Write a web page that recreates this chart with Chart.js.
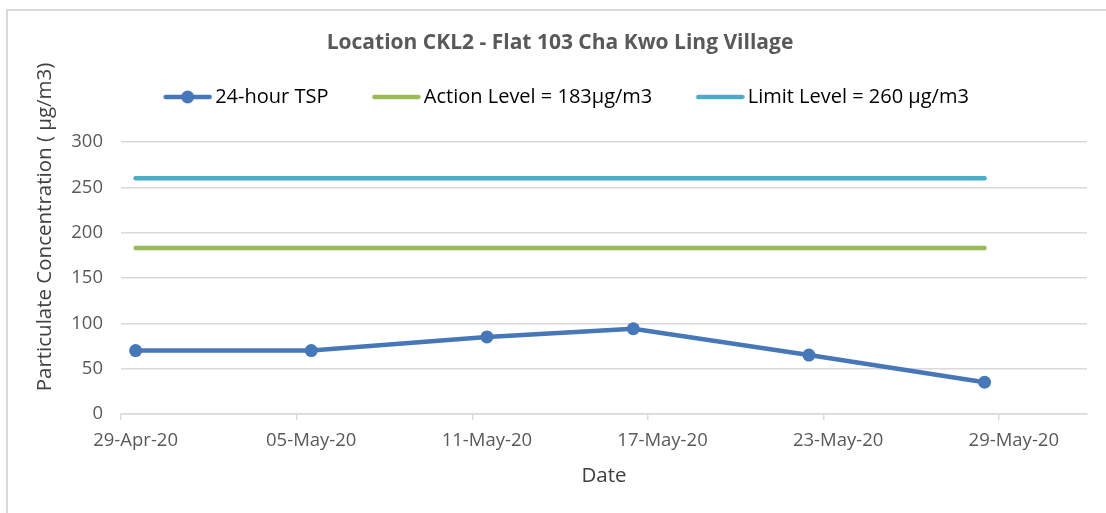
<!DOCTYPE html>
<html>
<head>
<meta charset="utf-8">
<script src="https://cdn.jsdelivr.net/npm/chart.js@4.4.1/dist/chart.umd.min.js"></script>
<style>
  html, body { margin: 0; padding: 0; background: #fff; overflow: hidden; width: 1106px; height: 513px; }
  .frame { position: absolute; left: 6px; top: 9px; border-left: 2px solid #d9d9d9; border-top: 2px solid #d9d9d9; }
  canvas { display: block; }
</style>
</head>
<body>
<div class="frame"><canvas id="chart" width="1111" height="502"></canvas></div>
<script>
// data
const dates = ["2020-04-29", "2020-05-05", "2020-05-11", "2020-05-16", "2020-05-22", "2020-05-28"];
const tsp = [70, 70, 85, 94, 65, 35];
const actionLevel = 183;
const limitLevel = 260;

const tickDates = ["2020-04-29", "2020-05-05", "2020-05-11", "2020-05-17", "2020-05-23", "2020-05-29"];
const tickLabels = ["29-Apr-20", "05-May-20", "11-May-20", "17-May-20", "23-May-20", "29-May-20"];
const axisStart = "2020-04-29";
const axisEnd = "2020-06-01";
const yTicks = [0, 50, 100, 150, 200, 250, 300];
const yTitleText = "Particulate Concentration ( µg/m3)";

const FONT = "'Open Sans', 'Noto Sans', sans-serif";
const DAY = 86400000;
const dayOf = d => (Date.parse(d) - Date.parse(axisStart)) / DAY;
// Excel draws a date in the middle of its day slot
const pts = vals => dates.map((d, i) => ({ x: dayOf(d) + 0.5, y: vals[i] }));

function legendIcon(color, withDot) {
  const c = document.createElement("canvas");
  c.width = 68; c.height = 16;
  const g = c.getContext("2d");
  g.strokeStyle = color; g.lineWidth = 4.5; g.lineCap = "round";
  g.beginPath(); g.moveTo(21.5, 8); g.lineTo(65.5, 8); g.stroke();
  if (withDot) {
    g.fillStyle = color;
    g.beginPath(); g.arc(43.5, 8, 6.5, 0, 2 * Math.PI); g.fill();
  }
  return c;
}

// empty box under the legend, keeps the plot top where the reference has it
const legendSpacer = {
  id: "legendSpacer",
  beforeInit(chart) {
    Chart.layouts.addBox(chart, {
      position: "top", weight: 0, fullSize: true, options: {},
      top: 0, left: 0, right: 0, bottom: 0, width: 0, height: 0,
      update(maxWidth) { this.width = maxWidth; this.height = 25; },
      isHorizontal() { return true; },
      draw() {},
    });
  },
};

// Excel centres the value-axis title higher than the plot area, so draw it here
const yAxisTitle = {
  id: "yAxisTitle",
  afterDraw(chart) {
    const { ctx, chartArea } = chart;
    ctx.save();
    ctx.translate(37.3, (chartArea.top + chartArea.bottom) / 2 - 51);
    ctx.rotate(-Math.PI / 2);
    ctx.font = "20.5px " + FONT;
    ctx.fillStyle = "#404040";
    ctx.textAlign = "center";
    ctx.textBaseline = "middle";
    ctx.fillText(yTitleText, 0, 0);
    ctx.restore();
  },
};

const blue = "#4677b8", green = "#9bbb59", cyan = "#4bacc6";

new Chart(document.getElementById("chart"), {
  type: "line",
  plugins: [legendSpacer, yAxisTitle],
  data: {
    datasets: [
      {
        label: "24-hour TSP",
        data: pts(tsp),
        borderColor: blue,
        backgroundColor: blue,
        borderWidth: 4.5,
        pointRadius: 6.5,
        pointBorderWidth: 0,
        pointBackgroundColor: blue,
        icon: legendIcon(blue, true),
      },
      {
        label: "Action Level = 183µg/m3",
        data: pts(dates.map(() => actionLevel)),
        borderColor: green,
        borderWidth: 4.5,
        borderCapStyle: "round",
        pointRadius: 0,
        icon: legendIcon(green, false),
      },
      {
        label: "Limit Level = 260 µg/m3",
        data: pts(dates.map(() => limitLevel)),
        borderColor: cyan,
        borderWidth: 4.5,
        borderCapStyle: "round",
        pointRadius: 0,
        icon: legendIcon(cyan, false),
      },
    ],
  },
  options: {
    responsive: false,
    animation: false,
    layout: { padding: { left: 25, right: 32, top: 0, bottom: 0 } },
    plugins: {
      tooltip: { enabled: false },
      title: {
        display: true,
        text: "Location CKL2 - Flat 103 Cha Kwo Ling Village",
        color: "#595959",
        font: { family: FONT, size: 21, weight: "bold" },
        padding: { top: 19.4, bottom: 0 },
      },
      legend: {
        display: true,
        position: "top",
        labels: {
          usePointStyle: true,
          pointStyleWidth: 54,
          padding: 31.4,
          color: "#000",
          font: { family: FONT, size: 20 },
          generateLabels: chart => chart.data.datasets.map((ds, i) => ({
            text: ds.label,
            pointStyle: ds.icon,
            fillStyle: ds.borderColor,
            strokeStyle: ds.borderColor,
            lineWidth: 0,
            hidden: false,
            datasetIndex: i,
          })),
        },
      },
    },
    scales: {
      x: {
        type: "linear",
        min: 0,
        max: dayOf(axisEnd),
        offset: false,
        afterBuildTicks: s => { s.ticks = tickDates.map(d => ({ value: dayOf(d) })); },
        afterFit: s => { s.height = 99; },
        ticks: {
          color: "#595959",
          font: { family: FONT, size: 18.5 },
          padding: 10,
          labelOffset: 14.6,
          maxRotation: 0,
          autoSkip: false,
          callback: (v, i) => tickLabels[i],
        },
        grid: { drawOnChartArea: false, drawTicks: true, tickLength: 6, color: "#d9d9d9", lineWidth: 1.5 },
        border: { display: true, color: "#d9d9d9", width: 1.5 },
        title: {
          display: true,
          text: "Date",
          color: "#404040",
          font: { family: FONT, size: 20.5 },
          padding: { top: 0, bottom: 24.7 },
        },
      },
      y: {
        min: 0,
        max: 300,
        afterBuildTicks: s => { s.ticks = yTicks.map(v => ({ value: v })); },
        afterFit: s => { s.width = 88; },
        ticks: {
          color: "#595959",
          font: { family: FONT, size: 18.5 },
          padding: 18,
        },
        grid: { drawTicks: false, color: "#d9d9d9", lineWidth: 1.5 },
        border: { display: false },
        title: { display: false },
      },
    },
  },
});
</script>
</body>
</html>
